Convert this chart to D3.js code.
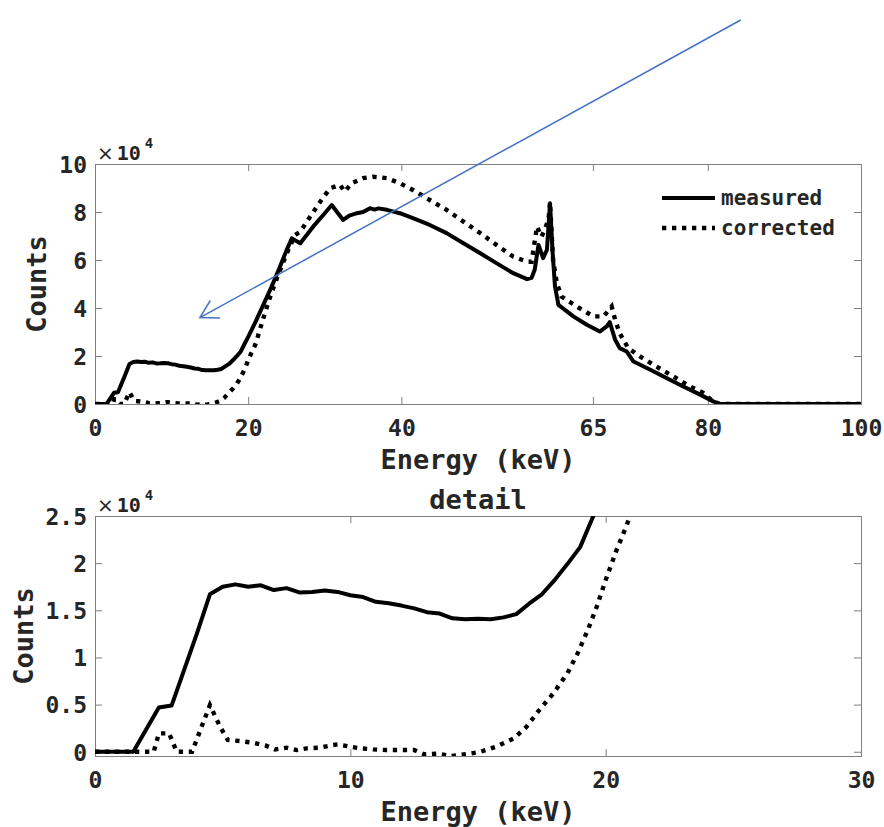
<!DOCTYPE html>
<html>
<head>
<meta charset="utf-8">
<script src="https://cdn.jsdelivr.net/npm/d3@7"></script>
<style>
  html, body { margin: 0; padding: 0; background: #ffffff; }
  svg text { font-family: "DejaVu Sans Mono", monospace; font-weight: bold; fill: #262626; }
</style>
</head>
<body>
<svg id="chart" width="884" height="827"></svg>
<script>
// Spectrum samples: energy in keV, counts per bin
const measuredEnergy = [0, 1.5, 2.5, 3.0, 4.0, 4.5, 5.0, 5.5, 6.0, 6.5, 7.0, 7.5, 8.0, 8.5, 9.0, 9.5,
  10.0, 10.5, 11.0, 11.5, 12.0, 12.5, 13.0, 13.5, 14.0, 14.5, 15.0, 15.5, 16.0, 16.5, 17.0, 17.5,
  18.0, 18.5, 19.0, 19.5, 20.0, 21.0, 22.0, 23.0, 24.0, 25.0, 25.7, 26.8, 28.5, 30.0, 30.9, 31.6,
  32.4, 33.2, 34.2, 35.0, 35.9, 36.5, 37.0, 38.1, 39.8, 41.5, 43.7, 45.9, 48.1, 50.3, 52.4, 54.6,
  56.4, 57.0, 57.4, 57.9, 58.5, 59.0, 59.4, 59.75, 60.05, 60.5, 62.45, 64.2, 65.9, 66.8, 67.2, 67.9,
  68.5, 69.4, 70.3, 72.5, 74.6, 76.8, 79.0, 80.7, 81.6, 100];
const measuredCounts = [0, 0, 4700, 4900, 12600, 16700, 17500, 17750, 17500, 17650, 17150, 17350, 16900, 16950, 17100, 16950,
  16600, 16400, 15900, 15750, 15500, 15200, 14800, 14650, 14150, 14050, 14100, 14050, 14250, 14600, 15700, 16700,
  18200, 19900, 21700, 24900, 28000, 34500, 41500, 48500, 56000, 64000, 69000, 67000, 74000, 79500, 82900, 80000,
  76700, 78500, 79500, 80000, 81600, 81000, 81500, 80900, 79500, 77400, 74600, 71200, 67000, 62800, 58700, 54500,
  52000, 52600, 55900, 66300, 60800, 64200, 83600, 62800, 49000, 41300, 36500, 33000, 30200, 32300, 34100, 26800,
  23300, 21900, 17700, 14300, 10800, 7300, 3900, 1100, 0, 0];

const correctedEnergy = [0, 2.3, 2.5, 2.9, 3.2, 3.8, 4.5, 4.9, 5.2, 5.7, 6.2, 6.7, 7.05, 7.5, 7.9, 8.3,
  8.8, 9.3, 9.5, 10.0, 10.4, 10.9, 11.4, 11.9, 12.5, 12.9, 13.4, 13.97, 14.56, 15.1, 15.7, 16.4,
  16.9, 17.4, 17.95, 18.5, 18.9, 19.3, 19.65, 20.0, 20.4, 20.8, 21.0, 22.0, 23.0, 24.0, 25.0, 26.1,
  26.8, 28.1, 29.4, 30.7, 32.0, 32.6, 33.5, 35.0, 36.3, 38.1, 39.8, 41.5, 43.7, 45.9, 48.1, 50.3,
  52.4, 54.6, 56.4, 57.0, 57.7, 58.3, 59.2, 59.4, 59.8, 60.3, 60.9, 62.9, 65.05, 66.4, 67.45, 67.9,
  68.5, 69.6, 71.15, 73.3, 75.5, 77.7, 79.4, 80.7, 81.6, 100];
const correctedCounts = [0, 0, 1950, 1950, 0, 0, 4950, 2650, 1250, 1130, 950, 640, 250, 430, 180, 360,
  430, 710, 780, 530, 360, 250, 180, 180, 180, -280, -200, -450, -250, 0, 530, 1410,
  2650, 4420, 6190, 8310, 10430, 12900, 15380, 18200, 21200, 23860, 25300, 36000, 46000, 54500, 62500, 70400,
  71800, 78100, 84300, 89900, 91300, 88500, 92000, 94100, 94700, 94100, 92000, 89200, 85000, 80900, 76000, 71200,
  66300, 61400, 59300, 59300, 73900, 69700, 76700, 84000, 60000, 50300, 44800, 40600, 36500, 36500, 40600, 35100,
  29500, 23300, 19800, 15600, 11500, 7300, 4600, 1100, 0, 0];

const seriesNames = ["measured", "corrected"];
const spectrumEnergyTicks = [0, 20, 40, 65, 80, 100];
const spectrumCountTicks = [0, 2, 4, 6, 8, 10];      // in units of 10^4
const detailEnergyTicks = [0, 10, 20, 30];
const detailCountTicks = [0, 0.5, 1, 1.5, 2, 2.5];   // in units of 10^4
const detailTitle = "detail";
const xLabel = "Energy (keV)";
const yLabel = "Counts";
// Annotation arrow (keV, 10^4 counts) on the full spectrum axes
const arrowFrom = [84.3, 16.0];
const arrowTo = [13.7, 3.6];

const SCALE = 1e4;
const measured = measuredEnergy.map((e, i) => [e, measuredCounts[i] / SCALE]);
const corrected = correctedEnergy.map((e, i) => [e, correctedCounts[i] / SCALE]);

const svg = d3.select("#chart");
const boxColor = "#7f7f7f";
const ink = "#000000";

function drawPanel(opt) {
  const g = svg.append("g").attr("transform", `translate(${opt.left},${opt.top})`);
  const x = d3.scaleLinear().domain(opt.xDomain).range([0, opt.w]);
  const y = d3.scaleLinear().domain(opt.yDomain).range([opt.h, 0]);
  const tick = 7;

  // bottom axis with labels
  const xb = g.append("g").attr("transform", `translate(0,${opt.h})`)
    .call(d3.axisBottom(x).tickValues(opt.xTicks).tickSizeInner(-tick).tickSizeOuter(0).tickFormat(d3.format("d")));
  xb.selectAll("text").attr("y", 24).attr("dy", "0.35em").style("font-size", "23px");
  // left axis with labels
  const yl = g.append("g")
    .call(d3.axisLeft(y).tickValues(opt.yTicks).tickSizeInner(-tick).tickSizeOuter(0).tickFormat(d => String(d)));
  yl.selectAll("text").attr("x", -8).attr("dy", "0.36em").style("font-size", "23px");
  // mirrored ticks on top and right
  g.append("g").call(d3.axisTop(x).tickValues(opt.xTicks).tickSizeInner(-tick).tickSizeOuter(0).tickFormat(() => ""));
  g.append("g").attr("transform", `translate(${opt.w},0)`)
    .call(d3.axisRight(y).tickValues(opt.yTicks).tickSizeInner(-tick).tickSizeOuter(0).tickFormat(() => ""));
  g.selectAll(".domain").remove();
  g.selectAll(".tick line").attr("stroke", boxColor);
  g.selectAll(".tick text").attr("fill", "#262626");

  g.append("rect").attr("x", 0.5).attr("y", 0.5).attr("width", opt.w).attr("height", opt.h)
    .attr("fill", "none").attr("stroke", boxColor).attr("stroke-width", 1);

  // exponent label
  const ex = g.append("text").attr("x", 2).attr("y", -4).style("font-size", "20px");
  ex.append("tspan").text("×").style("font-family", "DejaVu Sans").style("font-weight", "normal");
  ex.append("tspan").text("10").attr("dx", 3);
  ex.append("tspan").text("4").attr("dx", 4).attr("dy", -12).style("font-size", "14px");

  // axis labels
  g.append("text").attr("x", opt.w / 2).attr("y", opt.h + 65).attr("text-anchor", "middle")
    .style("font-size", "27px").text(xLabel);
  g.append("text").attr("transform", `translate(${opt.yLabelX},${opt.h / 2}) rotate(-90)`)
    .attr("text-anchor", "middle").style("font-size", "27px").text(yLabel);

  if (opt.title) {
    g.append("text").attr("x", opt.w / 2).attr("y", -7).attr("text-anchor", "middle")
      .style("font-size", "27px").text(opt.title);
  }

  const clipId = "clip-" + opt.name;
  svg.append("clipPath").attr("id", clipId)
    .append("rect").attr("x", 0).attr("y", 0).attr("width", opt.w).attr("height", opt.h);
  const plot = g.append("g").attr("clip-path", `url(#${clipId})`);
  const line = d3.line().x(d => x(d[0])).y(d => y(d[1]));

  plot.append("path").datum(measured).attr("d", line)
    .attr("fill", "none").attr("stroke", ink).attr("stroke-width", 4)
    .attr("stroke-linejoin", "round");
  plot.append("path").datum(corrected).attr("d", line)
    .attr("fill", "none").attr("stroke", ink).attr("stroke-width", 4.4)
    .attr("stroke-dasharray", "4.3,5.7").attr("stroke-linejoin", "miter");

  return { g, x, y };
}

const spectrumPanel = drawPanel({
  name: "spectrum", left: 95, top: 164, w: 766, h: 240,
  xDomain: [0, 100], yDomain: [0, 10],
  xTicks: spectrumEnergyTicks, yTicks: spectrumCountTicks, yLabelX: -49
});

const detailMin = Math.min(0, d3.min(correctedCounts) / SCALE, d3.min(measuredCounts) / SCALE);
drawPanel({
  name: "detail", left: 95, top: 516, w: 766, h: 240,
  xDomain: [0, 30], yDomain: [detailMin, 2.5],
  xTicks: detailEnergyTicks, yTicks: detailCountTicks, yLabelX: -62, title: detailTitle
});

// legend on the full spectrum panel
const legend = spectrumPanel.g.append("g").attr("transform", "translate(567,34)");
seriesNames.forEach((name, i) => {
  const row = legend.append("g").attr("transform", `translate(0,${i * 30})`);
  const l = row.append("line").attr("x1", 0).attr("x2", 53).attr("y1", 0).attr("y2", 0)
    .attr("stroke", ink).attr("stroke-width", i === 0 ? 4 : 4.4);
  if (i === 1) l.attr("stroke-dasharray", "4.3,5.7");
  row.append("text").attr("x", 59).attr("y", 7).style("font-size", "21px").text(name);
});

// annotation arrow
const ax0 = spectrumPanel.x(arrowFrom[0]), ay0 = spectrumPanel.y(arrowFrom[1]);
const ax1 = spectrumPanel.x(arrowTo[0]), ay1 = spectrumPanel.y(arrowTo[1]);
const ang = Math.atan2(ay0 - ay1, ax0 - ax1);
const headLen = 20, spread = Math.PI / 6;
const arrow = spectrumPanel.g.append("g").attr("stroke", "#4472C4").attr("stroke-width", 1.5).attr("fill", "none");
arrow.append("line").attr("x1", ax0).attr("y1", ay0).attr("x2", ax1).attr("y2", ay1);
arrow.append("path").attr("d", d3.line()([
  [ax1 + headLen * Math.cos(ang - spread), ay1 + headLen * Math.sin(ang - spread)],
  [ax1, ay1],
  [ax1 + headLen * Math.cos(ang + spread), ay1 + headLen * Math.sin(ang + spread)]
]));
</script>
</body>
</html>
